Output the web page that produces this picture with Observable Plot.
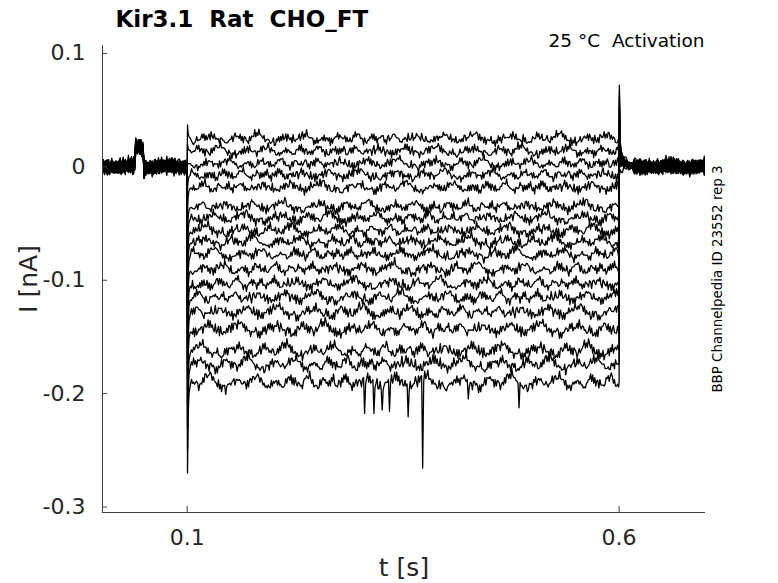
<!DOCTYPE html>
<html><head><meta charset="utf-8">
<script src="https://cdn.jsdelivr.net/npm/d3@7"></script>
<script src="https://cdn.jsdelivr.net/npm/@observablehq/plot@0.6"></script>
<style>body{margin:0;background:#fff}svg{font-family:"DejaVu Sans",sans-serif}</style>
</head><body><div id="chart"></div>
<script>
// steady-state current of each sweep during the step (nA), top to bottom
const traceLevels = [0.025, 0.014, 0.003, -0.007, -0.018, -0.035, -0.045, -0.056, -0.066, -0.077, -0.090, -0.103, -0.115, -0.128, -0.143, -0.162, -0.174, -0.190];
// capacitive peak at step onset (nA)
const onsetPeaks = [0.037, 0.020, 0.002, -0.020, -0.040, -0.060, -0.075, -0.090, -0.105, -0.120, -0.140, -0.160, -0.175, -0.190, -0.210, -0.230, -0.250, -0.270];
// capacitive peak at step offset (nA)
const offsetPeaks = [-0.008, 0.000, 0.005, 0.010, 0.015, 0.020, 0.025, 0.030, 0.033, 0.036, 0.040, 0.045, 0.050, 0.053, 0.057, 0.062, 0.067, 0.072];
// noise amplitude factor per sweep
const noiseScale = [1.1, 1.1, 1.1, 1.1, 1.15, 1.2, 1.2, 1.2, 1.25, 1.25, 1.3, 1.3, 1.35, 1.4, 1.45, 1.5, 1.55, 1.65];
const baselineNoiseScale = 1.3;
// recorded slow noise (pA)
const noise = [-1,2,0,-2,1,3,-1,0,2,4,1,3,0,-1,2,1,-2,-1,1,-3,-2,0,-4,-1,-3,-2,1,-1,0,2,-1,1,3,0,2,5,2,4,1,3,-1,0,2,-2,-1,1,-3,0,-2,-4,-1,-3,-2,0,-1,2,1,-1,3,0,
2,4,3,1,5,2,4,6,3,1,2,-1,1,0,-2,-1,-4,-2,0,-3,-1,1,-2,-4,-3,-5,-2,-3,0,-1,1,-2,0,2,1,3,0,1,-1,2,3,1,4,2,0,3,1,-2,0,-1,-3,-1,1,-2,0,-3,-5,
-2,-4,-1,-3,0,2,-1,1,3,2,4,1,0,2,-1,1,-2,0,1,-1,-3,-2,0,-1,2,1,3,5,2,4,3,6,4,2,3,0,1,-1,-2,0,-3,-1,-4,-2,-3,-1,-5,-3,-1,-2,0,-2,1,0,2,-1,1,3,
0,2,1,-1,0,-2,1,-1,-3,0,-2,1,3,0,2,4,1,3,2,5,3,1,2,0,-1,1,-3,-2,-4,-1,-3,-2,0,-2,1,-1,2,0,-1,1,-2,0,-4,-2,-3,-1,1,0,2,4,1,3,0,2,-1,1,0,-2,
1,-1,-3,-1,-2,0,2,1,4,2,3,5,2,0,1,-1,-3,-1,-2,-4,-2,0,-1,1,3,0,2,-1,1,-2,0,-1,2,1,3,0,-2,-1,-3,0,1,-1,2,0,3,2,4,1,2,-1,0,-2,-3,-1,-2,0,1,-1];
// recorded fast jitter (pA)
const jitter = [2,-1,1,-2,0,2,-2,1,-1,3,-1,0,-2,1,2,-1,-3,1,0,2,-1,1,-2,2,0,-1,1,-3,2,-1,0,1,-2,3,-1,1,-1];
// test pulse before the step
const pulseTimes = [0.040, 0.0495];
const pulseLevel = 0.017;
const pulseDip = {t: 0.0502, I: -0.010};
// onset transient decay (time after 0.1 s, fraction of peak)
const onsetDecayT = [0.0004, 0.0012, 0.0022, 0.0035];
const onsetDecayFrac = [1, 0.35, 0.12, 0.04];
// offset tail (time after 0.6 s, fraction of peak)
const offsetDecayT = [0.0003, 0.0012, 0.0024, 0.0038, 0.0055, 0.008, 0.011, 0.015];
const offsetDecayFrac = [1, 0.32, 0.22, 0.15, 0.1, 0.06, 0.03, 0.01];
// sharp downward events on the largest sweep
const glitchTimes = [0.3053, 0.3161, 0.3258, 0.3346, 0.3559, 0.3728, 0.4254, 0.4840];
const glitchValues = [-0.2175, -0.2175, -0.2143, -0.2158, -0.2204, -0.2656, -0.2046, -0.2125];

const stepTimes = [0.1, 0.6];
const xDomain = [0.002, 0.700];
const yDomain = [-0.3048, 0.107];
const xTicks = [0.1, 0.6];
const xTickLabels = ["0.1", "0.6"];
const yTicks = [0.1, 0, -0.1, -0.2, -0.3];
const yTickLabels = ["0.1", "0", "-0.1", "-0.2", "-0.3"];

const data = [];
const N = noise.length, J = jitter.length;
traceLevels.forEach((L, i) => {
  let k = 0;
  const nz = s => { const v = (noise[(k + i * 37) % N] * s + jitter[(k + i * 5) % J] * 0.8) * 0.001; k++; return v; };
  // baseline before the step
  for (let t = xDomain[0]; t < stepTimes[0]; t += 0.0012) {
    const base = (t >= pulseTimes[0] && t < pulseTimes[1]) ? pulseLevel : 0;
    data.push({trace: i, t, I: base + nz(baselineNoiseScale)});
    if (t < pulseDip.t && t + 0.0012 >= pulseDip.t) data.push({trace: i, t: pulseDip.t, I: pulseDip.I});
  }
  data.push({trace: i, t: stepTimes[0], I: nz(1)});
  onsetDecayT.forEach((dt, j) => data.push({trace: i, t: stepTimes[0] + dt, I: L + onsetDecayFrac[j] * (onsetPeaks[i] - L)}));
  // step
  for (let t = 0.105; t < stepTimes[1]; t += 0.0012) {
    let I = L + nz(noiseScale[i]);
    if (i === traceLevels.length - 1) {
      glitchTimes.forEach((gt, g) => { if (Math.abs(gt - t) < 0.0006) I = glitchValues[g]; });
    }
    data.push({trace: i, t, I});
  }
  data.push({trace: i, t: stepTimes[1], I: L});
  offsetDecayT.forEach((dt, j) => data.push({trace: i, t: stepTimes[1] + dt, I: offsetDecayFrac[j] * offsetPeaks[i] + (j > 1 ? nz(0.7) : 0)}));
  // baseline after the step
  for (let t = stepTimes[1] + 0.017; t <= xDomain[1]; t += 0.0012) {
    data.push({trace: i, t, I: nz(baselineNoiseScale)});
  }
});

const axisColor = "#404040";
const textColor = "#262626";
const chart = Plot.plot({
  width: 778, height: 583,
  marginLeft: 102, marginRight: 73, marginTop: 45, marginBottom: 71,
  style: {fontFamily: "DejaVu Sans", color: textColor, background: "#fff"},
  x: {domain: xDomain},
  y: {domain: yDomain},
  marks: [
    Plot.line(data, {x: "t", y: "I", z: "trace", stroke: "#000", strokeWidth: 1.3, clip: true}),
    Plot.ruleX([xDomain[0]], {stroke: axisColor}),
    Plot.ruleY([yDomain[0]], {stroke: axisColor}),
    Plot.axisY(yTicks, {tickSize: -5, tickPadding: 22, fontSize: 22, stroke: axisColor, fill: textColor,
      tickFormat: d => yTickLabels[yTicks.indexOf(d)], label: null}),
    Plot.axisX(xTicks, {tickSize: -6, tickPadding: 23, fontSize: 22, stroke: axisColor, fill: textColor,
      tickFormat: d => xTickLabels[xTicks.indexOf(d)], label: null}),
    Plot.text(["Kir3.1\u00A0\u00A0Rat\u00A0\u00A0CHO_FT"], {frameAnchor: "top-left", textAnchor: "start", lineAnchor: "middle",
      dx: 13, dy: -26, fontSize: 23, fontWeight: "bold", fill: "#000"}),
    Plot.text(["25 \u00B0C\u00A0\u00A0Activation"], {frameAnchor: "top-right", textAnchor: "end", lineAnchor: "middle",
      dx: -1, dy: -4, fontSize: 18.5, fill: "#000"}),
    Plot.text(["BBP Channelpedia ID 23552 rep 3"], {frameAnchor: "right", textAnchor: "middle", lineAnchor: "middle",
      dx: 12, rotate: -90, fontSize: 13.4, fill: "#000"}),
    Plot.text(["I [nA]"], {frameAnchor: "left", textAnchor: "middle", lineAnchor: "middle",
      dx: -74, rotate: -90, fontSize: 25, fill: textColor}),
    Plot.text(["t [s]"], {frameAnchor: "bottom", textAnchor: "middle", lineAnchor: "middle",
      dy: 55, fontSize: 25, fill: textColor})
  ]
});
document.getElementById("chart").appendChild(chart);
</script>
</body></html>
